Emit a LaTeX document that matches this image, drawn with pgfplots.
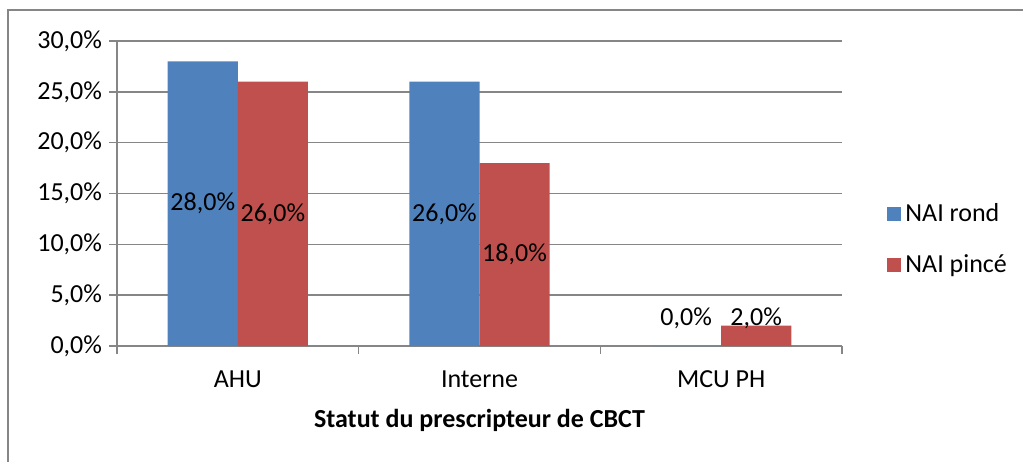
\documentclass[border=0pt]{standalone}
\usepackage{pgfplots}
\pgfplotsset{compat=1.18}
\usepackage{fontspec}
\setmainfont{Carlito}
\definecolor{sblue}{RGB}{79,129,189}
\definecolor{sred}{RGB}{192,80,77}
\definecolor{gridgray}{RGB}{134,134,134}
\begin{document}
\begin{tikzpicture}[x=0.5pt,y=0.5pt,font=\fontsize{13}{15.6}\selectfont]
\useasboundingbox (-117,-115) rectangle (906,346);
\draw[gridgray, line width=1pt] (-109,336) rectangle (940,-140);
\begin{axis}[
  at={(0,0)}, anchor=south west,
  scale only axis, width=362.5pt, height=152.5pt,
  xmin=-0.5, xmax=2.5, ymin=0, ymax=30,
  axis lines=left,
  axis line style={-, gridgray, line width=0.75pt},
  tick style={gridgray, line width=0.75pt},
  tick align=outside, major tick length=4pt,
  tick label style={font=\fontsize{13}{15.6}\selectfont, text=black},
  xtick={-0.5,0.5,1.5,2.5},
  x tick label as interval,
  xticklabels={AHU,Interne,MCU PH},
  xticklabel style={yshift=-5pt},
  ytick={0,5,10,15,20,25,30},
  yticklabels={{0,0\%},{5,0\%},{10,0\%},{15,0\%},{20,0\%},{25,0\%},{30,0\%}},
  ymajorgrids, grid style={gridgray, line width=0.75pt},
  xlabel={Statut du prescripteur de CBCT},
  xlabel style={font=\bfseries\fontsize{13}{15.6}\selectfont, anchor=center, at={(axis description cs:0.5,-0.243)}},
  legend style={at={(1,0.35)}, anchor=west, xshift=19.5pt, draw=none, fill=none,
    row sep=11pt, legend cell align=left, font=\fontsize{13}{15.6}\selectfont},
  nodes near coords style={font=\fontsize{13}{15.6}\selectfont, anchor=center, text=black},
]
\addplot[ybar, bar width=0.29, bar shift=-0.145, fill=sblue, draw=none,
  legend image code/.code={\fill[sblue] (0pt,-3.5pt) rectangle (7pt,3.5pt);}]
  coordinates {(0,28) (1,26) (2,0)};
\addlegendentry{NAI rond}
\addplot[ybar, bar width=0.29, bar shift=0.145, fill=sred, draw=none,
  legend image code/.code={\fill[sred] (0pt,-3.5pt) rectangle (7pt,3.5pt);}]
  coordinates {(0,26) (1,18) (2,2)};
\addlegendentry{NAI pincé}
\addplot[only marks, mark=none, forget plot, point meta=explicit,
  nodes near coords={\pgfmathprintnumber[fixed,fixed zerofill,precision=1,use comma,assume math mode=true]{\pgfplotspointmeta}\%}]
  coordinates {(-0.145,14) [28] (0.145,13) [26] (0.855,13) [26] (1.145,9) [18] (1.855,2.7) [0] (2.145,2.7) [2]};
\end{axis}
\end{tikzpicture}
\end{document}
